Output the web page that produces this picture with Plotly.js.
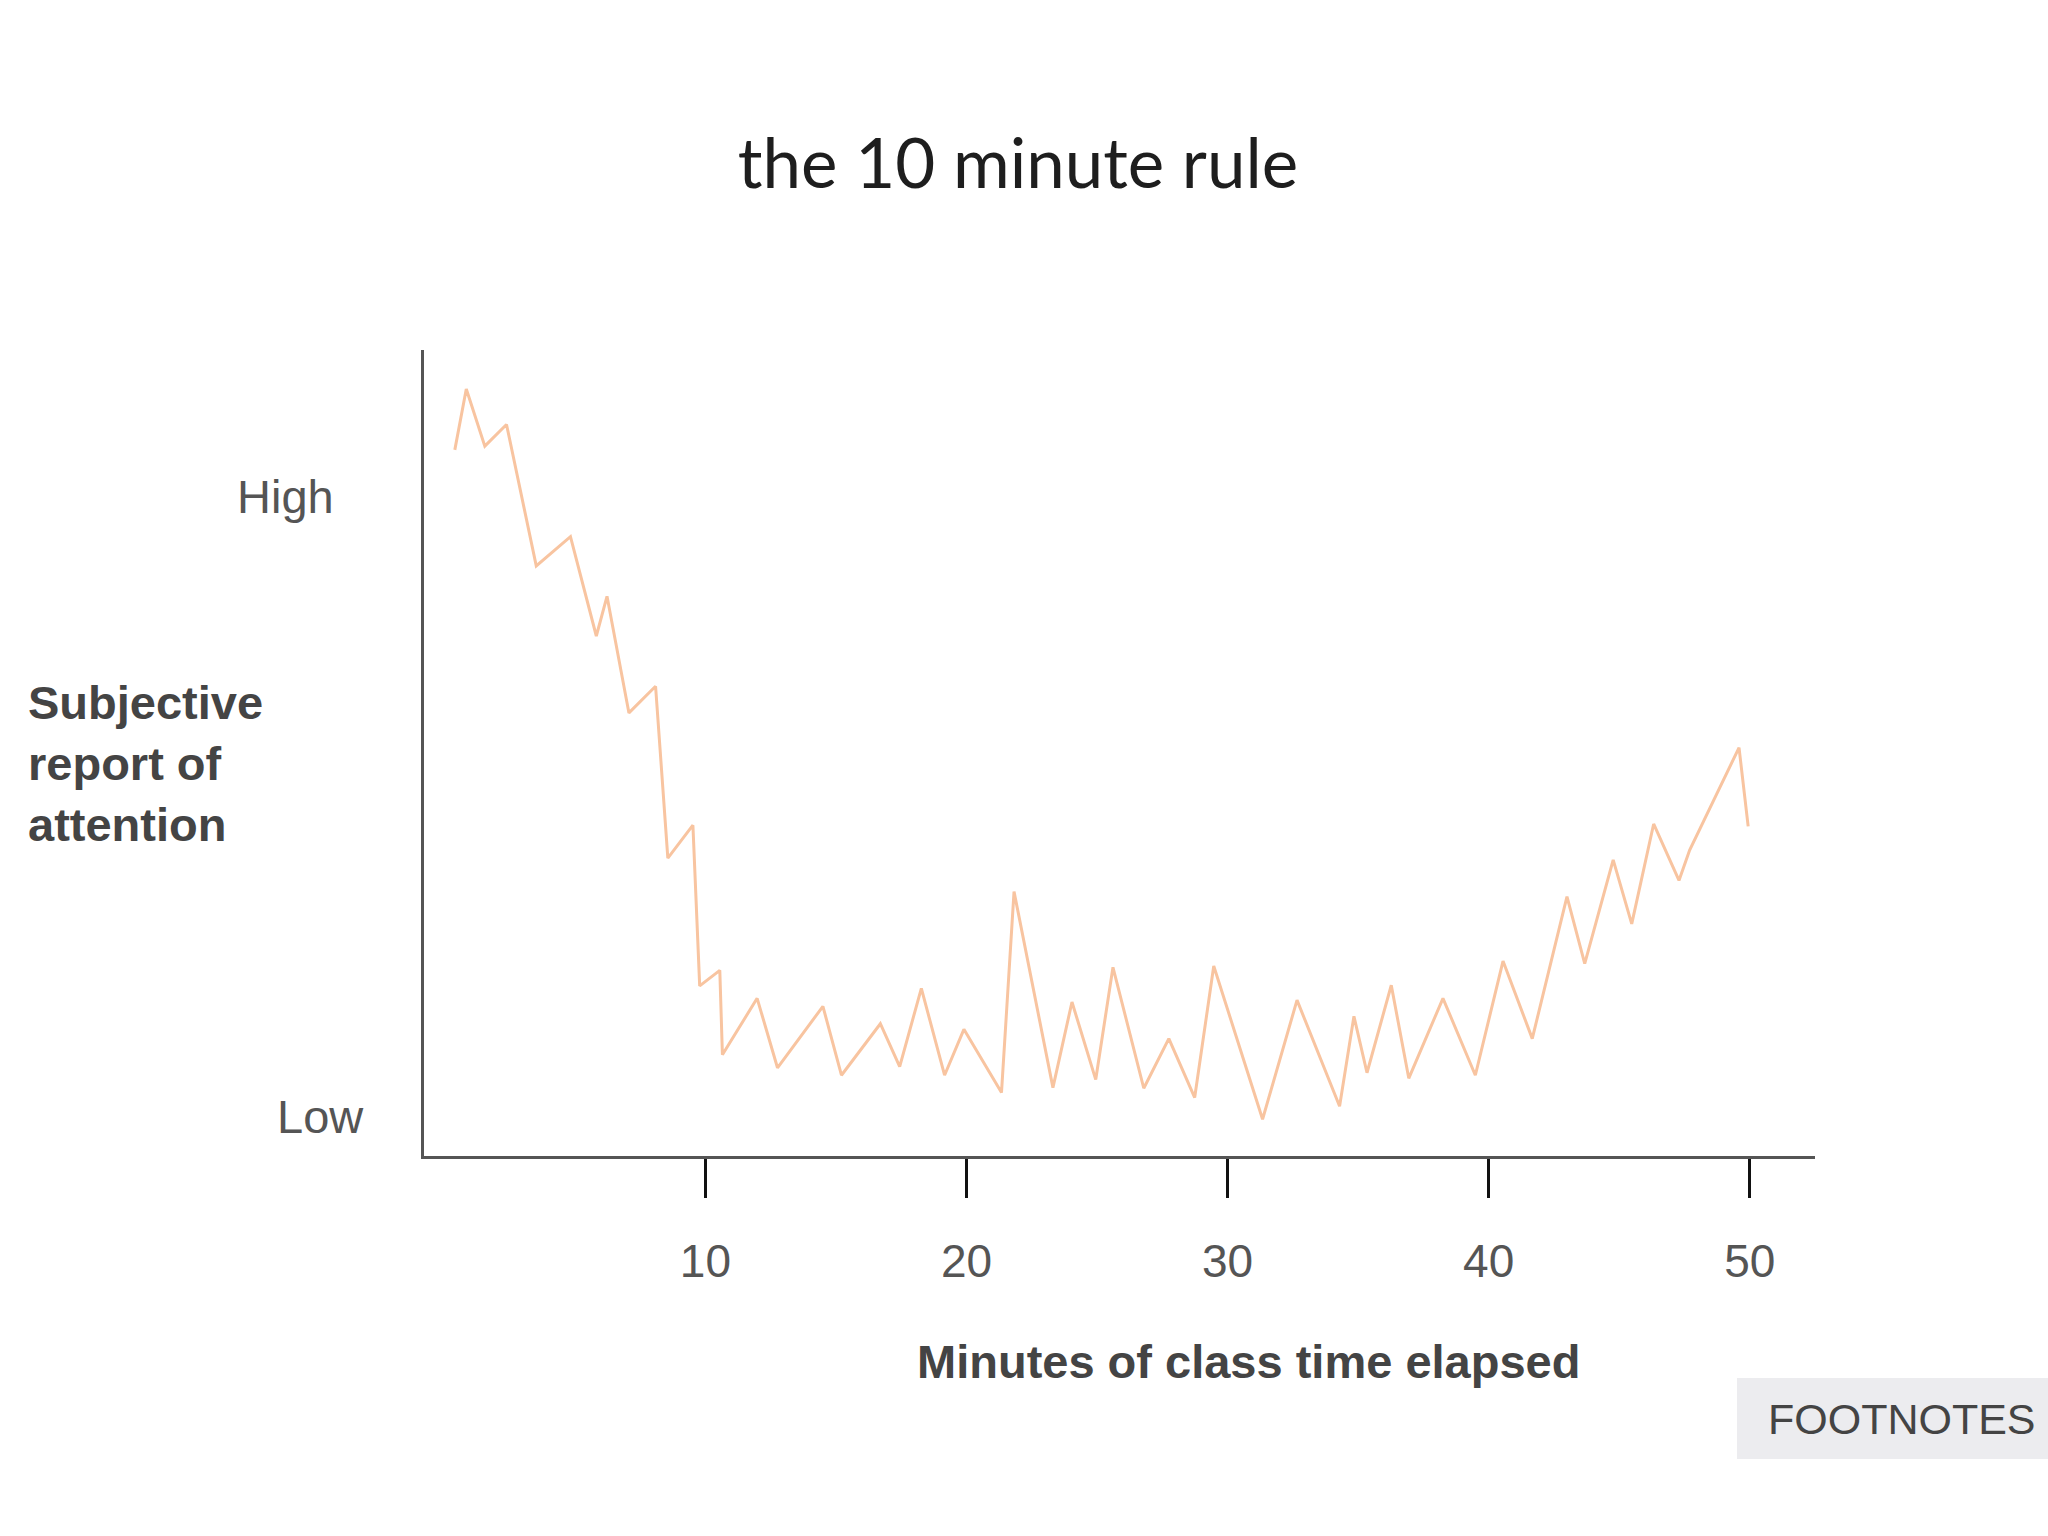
<!DOCTYPE html>
<html>
<head>
<meta charset="utf-8">
<script src="https://cdn.plot.ly/plotly-3.0.1.min.js"></script>
<style>
  html, body { margin: 0; padding: 0; background: #ffffff; }
  #chart { width: 2048px; height: 1536px; }
</style>
</head>
<body>
<div id="chart"></div>
<script>
// Minutes of class time elapsed (x) and subjective attention (0 = Low, 100 = High)
const minutes = [0.40, 0.84, 1.55, 2.38, 3.52, 4.83, 5.82, 6.23, 7.07, 8.09,
  8.56, 9.52, 9.78, 10.55, 10.65, 11.98, 12.76, 14.50, 15.21, 16.70,
  17.44, 18.27, 19.16, 19.90, 21.34, 21.82, 23.31, 24.04, 24.95, 25.61,
  26.79, 27.75, 28.74, 29.47, 31.34, 32.66, 34.29, 34.84, 35.34, 36.27,
  36.94, 38.25, 39.49, 40.55, 41.67, 43.00, 43.68, 44.77, 45.48, 46.32,
  47.29, 47.70, 49.59, 49.94];
const attention = [107.5, 117.3, 108.1, 111.6, 88.8, 93.5, 77.5, 83.9, 65.1, 69.4,
  41.7, 47.0, 21.1, 23.6, 10.0, 19.1, 7.9, 17.8, 6.7, 15.0,
  8.1, 20.7, 6.7, 14.1, 3.9, 36.3, 4.7, 18.5, 6.0, 24.1,
  4.6, 12.6, 3.1, 24.3, -0.4, 18.8, 1.7, 16.2, 7.1, 21.2,
  6.2, 19.1, 6.7, 25.1, 12.6, 35.5, 24.7, 41.4, 31.1, 47.2,
  38.1, 43.0, 59.5, 46.8];

const xTickValues = [10, 20, 30, 40, 50];
const xTickLabels = ["10", "20", "30", "40", "50"];
const yLevelValues = [100, 0];
const yLevelLabels = ["High", "Low"];

const titleText = "the 10 minute rule";
const xTitleText = "Minutes of class time elapsed";
const yTitleText = "Subjective<br>report of<br>attention";
const footnoteText = "FOOTNOTES";

const trace = {
  x: minutes,
  y: attention,
  type: "scatter",
  mode: "lines",
  line: { color: "#f8c4a0", width: 3 },
  hoverinfo: "skip"
};

const W = 2048, H = 1536;
const plotL = 424, plotR = 1815, plotT = 350, plotB = 1156;

const annotations = [
  { text: yLevelLabels[0], xref: "paper", yref: "y", x: (336 - plotL) / (plotR - plotL), y: yLevelValues[0],
    xanchor: "right", yanchor: "middle", showarrow: false,
    font: { family: "Liberation Sans, Arial, sans-serif", size: 47, color: "#555555" } },
  { text: yLevelLabels[1], xref: "paper", yref: "y", x: (366 - plotL) / (plotR - plotL), y: yLevelValues[1],
    xanchor: "right", yanchor: "middle", showarrow: false,
    font: { family: "Liberation Sans, Arial, sans-serif", size: 47, color: "#555555" } },
  { text: "<b>" + yTitleText + "</b>", xref: "paper", yref: "paper",
    x: (26 - plotL) / (plotR - plotL), y: (plotB - 763) / (plotB - plotT),
    xanchor: "left", yanchor: "middle", align: "left", showarrow: false,
    font: { family: "Liberation Sans, Arial, sans-serif", size: 47, color: "#444444" } },
  { text: "<b>" + xTitleText + "</b>", xref: "paper", yref: "paper",
    x: (1248 - plotL) / (plotR - plotL), y: (plotB - 1361) / (plotB - plotT),
    xanchor: "center", yanchor: "middle", showarrow: false,
    font: { family: "Liberation Sans, Arial, sans-serif", size: 47, color: "#444444" } },
  { text: footnoteText, xref: "paper", yref: "paper",
    x: (1902 - plotL) / (plotR - plotL), y: (plotB - 1419) / (plotB - plotT),
    xanchor: "center", yanchor: "middle", showarrow: false,
    font: { family: "Liberation Sans, Arial, sans-serif", size: 43, color: "#444444" } }
];

const shapes = [
  { type: "rect", xref: "paper", yref: "paper", layer: "below",
    x0: (1737 - plotL) / (plotR - plotL), x1: (2048 - plotL) / (plotR - plotL),
    y0: (plotB - 1459) / (plotB - plotT), y1: (plotB - 1378) / (plotB - plotT),
    fillcolor: "#ececef", line: { width: 0 } }
];

const layout = {
  width: W, height: H,
  paper_bgcolor: "#ffffff",
  plot_bgcolor: "#ffffff",
  showlegend: false,
  margin: { l: plotL, r: W - plotR, t: plotT, b: H - plotB, pad: 0 },
  title: {
    text: titleText, x: 1018 / W, xanchor: "center", y: 1 - 164 / H, yanchor: "middle",
    font: { family: "Lato, Open Sans, sans-serif", size: 69, color: "#1e1e1e" }
  },
  xaxis: {
    range: [-0.78, 52.5],
    tickmode: "array", tickvals: xTickValues, ticktext: xTickLabels,
    ticks: "outside", ticklen: 39, tickwidth: 3, tickcolor: "#111111",
    ticklabelstandoff: 24,
    tickfont: { family: "Liberation Sans, Arial, sans-serif", size: 46, color: "#555555" },
    showline: true, linecolor: "#555555", linewidth: 3,
    showgrid: false, zeroline: false, fixedrange: true
  },
  yaxis: {
    range: [-6.32, 123.6],
    showticklabels: false, ticks: "",
    showline: true, linecolor: "#555555", linewidth: 3,
    showgrid: false, zeroline: false, fixedrange: true
  },
  annotations: annotations,
  shapes: shapes
};

Plotly.newPlot("chart", [trace], layout, { displayModeBar: false, staticPlot: true });
</script>
</body>
</html>
